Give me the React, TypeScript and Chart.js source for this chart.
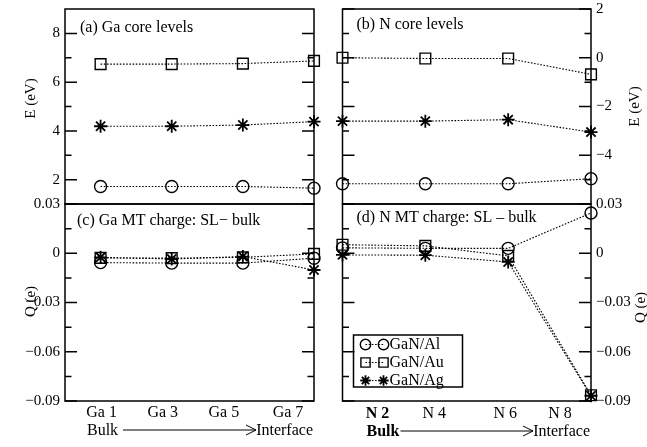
import React, { useEffect, useRef } from 'react';
import { Chart, registerables } from 'chart.js';

Chart.register(...registerables);

const FONT = "'Liberation Serif', 'Times New Roman', 'DejaVu Serif', serif";

// ---- categories ----
const GA_SITES = [1, 3, 5, 7];
const GA_SITE_LABELS = ['Ga 1', 'Ga 3', 'Ga 5', 'Ga 7'];
const N_SITES = [2, 4, 6, 8];
const N_SITE_LABELS = ['N 2', 'N 4', 'N 6', 'N 8'];
const SERIES_NAMES = ['GaN/Al', 'GaN/Au', 'GaN/Ag'];

// ---- (a) Ga core levels, E (eV) ----
const GA_CORE_AL = [1.72, 1.72, 1.72, 1.65];
const GA_CORE_AU = [6.74, 6.74, 6.76, 6.87];
const GA_CORE_AG = [4.19, 4.19, 4.24, 4.38];

// ---- (b) N core levels, E (eV) ----
const N_CORE_AL = [-5.17, -5.17, -5.17, -4.96];
const N_CORE_AU = [0.0, -0.03, -0.03, -0.68];
const N_CORE_AG = [-2.6, -2.6, -2.54, -3.05];

// ---- (c) Ga MT charge: SL - bulk, Q (e) ----
const GA_Q_AL = [-0.0057, -0.006, -0.006, -0.003];
const GA_Q_AU = [-0.0028, -0.003, -0.0025, -0.0004];
const GA_Q_AG = [-0.0025, -0.0035, -0.002, -0.0102];

// ---- (d) N MT charge: SL - bulk, Q (e) ----
const N_Q_AL = [0.0033, 0.003, 0.003, 0.0245];
const N_Q_AU = [0.0052, 0.0045, -0.0016, -0.0865];
const N_Q_AG = [-0.001, -0.0012, -0.0053, -0.0868];

// ---- tick values ----
const E_GA_TICKS = [2, 4, 6, 8];
const E_GA_MINOR = [3, 5, 7];
const E_N_TICKS = [2, 0, -2, -4];
const E_N_MINOR = [1, -1, -3, -5];
const Q_TICKS = [0.03, 0, -0.03, -0.06, -0.09];
const Q_MINOR = [0.015, -0.015, -0.045, -0.075];

const W = 647;
const H = 447;

const fmtE = (v: number) => (v === 0 ? '0' : (v < 0 ? '\u2212' : '') + String(Math.abs(v)));
const fmtQ = (v: number) => (Math.abs(v) < 1e-9 ? '0' : (v < 0 ? '\u2212' : '') + Math.abs(v).toFixed(2));

const STYLES = [
  { pointStyle: 'circle', radius: 6, lw: 1.4 },
  { pointStyle: 'rect', radius: 7.6, lw: 1.4 },
  { pointStyle: 'star', radius: 6.5, lw: 1.8 },
];

function makeDatasets(sites: number[], series: number[][]) {
  return series.map((vals, i) => ({
    label: SERIES_NAMES[i],
    data: sites.map((s, k) => ({ x: s, y: vals[k] })),
    showLine: true,
    borderColor: '#000',
    borderWidth: 1.1,
    borderDash: [1.6, 1.6],
    backgroundColor: 'rgba(0,0,0,0)',
    pointStyle: STYLES[i].pointStyle,
    pointRadius: STYLES[i].radius,
    pointBorderWidth: STYLES[i].lw,
    pointBorderColor: '#000',
    pointBackgroundColor: 'rgba(0,0,0,0)',
    fill: false,
    tension: 0,
    clip: false,
  }));
}

function marker(ctx: CanvasRenderingContext2D, style: string, x: number, y: number, r: number) {
  ctx.beginPath();
  if (style === 'circle') {
    ctx.arc(x, y, r, 0, Math.PI * 2);
  } else if (style === 'rect') {
    const s = r * Math.SQRT1_2;
    ctx.rect(x - s, y - s, 2 * s, 2 * s);
  } else {
    for (let k = 0; k < 4; k++) {
      const ang = (k * Math.PI) / 4;
      ctx.moveTo(x + Math.cos(ang) * r, y + Math.sin(ang) * r);
      ctx.lineTo(x - Math.cos(ang) * r, y - Math.sin(ang) * r);
    }
  }
  ctx.stroke();
}

const panelPlugin = {
  id: 'panel',
  beforeDatasetsDraw(chart: any, _args: any, o: any) {
    const { ctx, chartArea: a } = chart;
    const y = chart.scales.y;
    ctx.save();
    ctx.strokeStyle = '#000';
    ctx.lineWidth = 1.5;
    const tick = (v: number, len: number) => {
      const py = y.getPixelForValue(v);
      ctx.beginPath();
      ctx.moveTo(a.left, py);
      ctx.lineTo(a.left + len, py);
      ctx.moveTo(a.right, py);
      ctx.lineTo(a.right - len, py);
      ctx.stroke();
    };
    o.majors.forEach((v: number) => tick(v, 12));
    o.minors.forEach((v: number) => tick(v, 6.5));
    ctx.strokeRect(a.left, a.top, a.right - a.left, a.bottom - a.top);
    ctx.restore();
  },
  afterDraw(chart: any, _args: any, o: any) {
    const { ctx, chartArea: a } = chart;
    const x = chart.scales.x;
    ctx.save();
    ctx.fillStyle = '#000';
    ctx.strokeStyle = '#000';
    // panel title
    ctx.font = `16px ${FONT}`;
    ctx.textAlign = 'left';
    ctx.textBaseline = 'middle';
    ctx.fillText(o.title, a.left + o.titleDx, a.top + o.titleDy);
    // axis title (reads bottom to top)
    ctx.save();
    ctx.translate(o.yTitleX, (a.top + a.bottom) / 2 + o.yTitleDy);
    ctx.rotate(-Math.PI / 2);
    ctx.font = `15px ${FONT}`;
    ctx.textAlign = 'center';
    ctx.textBaseline = 'middle';
    ctx.fillText(o.yTitle, 0, 0);
    ctx.restore();
    // category labels + Bulk -> Interface
    if (o.xLabels) {
      ctx.textAlign = 'center';
      ctx.textBaseline = 'middle';
      o.sites.forEach((s: number, i: number) => {
        ctx.font = `${o.boldFirst && i === 0 ? 'bold ' : ''}16px ${FONT}`;
        ctx.fillText(o.xLabels[i], x.getPixelForValue(s) + o.labelNudge[i], a.bottom + o.labelDy);
      });
      const by = a.bottom + o.bulkDy;
      ctx.font = `${o.boldFirst ? 'bold ' : ''}16px ${FONT}`;
      ctx.textAlign = 'left';
      ctx.fillText('Bulk', a.left + o.bulkDx, by);
      ctx.font = `16px ${FONT}`;
      ctx.textAlign = 'right';
      ctx.fillText('Interface', a.right - 1, by);
      const ax0 = a.left + 58;
      const ax1 = a.right - 58;
      const ay = by - 1;
      ctx.lineWidth = 1;
      ctx.beginPath();
      ctx.moveTo(ax0, ay);
      ctx.lineTo(ax1, ay);
      ctx.moveTo(ax1 - 10, ay - 5);
      ctx.lineTo(ax1, ay);
      ctx.lineTo(ax1 - 10, ay + 5);
      ctx.stroke();
    }
    // legend
    if (o.legend) {
      const lx = a.left + 11;
      const ly = a.top + 131;
      ctx.lineWidth = 1.5;
      ctx.strokeRect(lx, ly, 109, 52);
      chart.data.datasets.forEach((ds: any, i: number) => {
        const ry = ly + 9.5 + i * 18;
        const m0 = lx + 12;
        const m1 = lx + 30;
        ctx.save();
        ctx.lineWidth = 1;
        ctx.setLineDash([1.6, 1.6]);
        ctx.beginPath();
        ctx.moveTo(m0, ry);
        ctx.lineTo(m1, ry);
        ctx.stroke();
        ctx.restore();
        const st = STYLES[i];
        ctx.lineWidth = st.lw;
        const r = st.pointStyle === 'rect' ? 6.5 : 5.2;
        marker(ctx, st.pointStyle, m0, ry, r);
        marker(ctx, st.pointStyle, m1, ry, r);
        ctx.font = `16px ${FONT}`;
        ctx.textAlign = 'left';
        ctx.textBaseline = 'middle';
        ctx.fillText(ds.label, lx + 36, ry + 0.5);
      });
    }
    ctx.restore();
  },
};

type PanelCfg = {
  sites: number[];
  xMin: number;
  xMax: number;
  series: number[][];
  yMin: number;
  yMax: number;
  ticks: number[];
  minors: number[];
  fmt: (v: number) => string;
  side: 'left' | 'right';
  padding: { left: number; right: number; top: number; bottom: number };
  axisWidth: number;
  plugin: any;
};

function buildConfig(p: PanelCfg): any {
  return {
    type: 'scatter',
    data: { datasets: makeDatasets(p.sites, p.series) },
    options: {
      responsive: false,
      animation: false,
      devicePixelRatio: 1,
      events: [],
      layout: { padding: p.padding },
      plugins: {
        legend: { display: false },
        tooltip: { enabled: false },
        panel: { majors: p.ticks, minors: p.minors, ...p.plugin },
      },
      scales: {
        x: { type: 'linear', min: p.xMin, max: p.xMax, display: false },
        y: {
          type: 'linear',
          position: p.side,
          min: p.yMin,
          max: p.yMax,
          afterFit: (s: any) => {
            s.width = p.axisWidth;
            s.paddingTop = 0;
            s.paddingBottom = 0;
          },
          afterBuildTicks: (s: any) => {
            s.ticks = p.ticks.map((v) => ({ value: v }));
          },
          ticks: {
            callback: (v: number) => p.fmt(v),
            padding: 5,
            autoSkip: false,
            color: '#000',
            font: { family: FONT, size: 15 },
          },
          grid: { display: false, drawTicks: false },
          border: { display: false },
        },
      },
    },
    plugins: [panelPlugin],
  };
}

const LEFT = 65;
const RIGHT_L = 314;
const LEFT_R = 342.5;
const RIGHT_R = 591;
const TOP = 5;
const MID = 204;
const BOTTOM = 401;

const PANELS: PanelCfg[] = [
  {
    sites: GA_SITES, xMin: 0, xMax: 7,
    series: [GA_CORE_AL, GA_CORE_AU, GA_CORE_AG],
    yMin: 1, yMax: 9, ticks: E_GA_TICKS, minors: E_GA_MINOR, fmt: fmtE,
    side: 'left', axisWidth: LEFT,
    padding: { left: 0, right: W - RIGHT_L, top: TOP, bottom: H - MID },
    plugin: { title: '(a) Ga core levels', titleDx: 15, titleDy: 19, yTitle: 'E (eV)', yTitleX: 31, yTitleDy: -8 },
  },
  {
    sites: N_SITES, xMin: 2, xMax: 8,
    series: [N_CORE_AL, N_CORE_AU, N_CORE_AG],
    yMin: -6, yMax: 2, ticks: E_N_TICKS, minors: E_N_MINOR, fmt: fmtE,
    side: 'right', axisWidth: W - RIGHT_R,
    padding: { left: LEFT_R, right: 0, top: TOP, bottom: H - MID },
    plugin: { title: '(b) N core levels', titleDx: 14, titleDy: 16, yTitle: 'E (eV)', yTitleX: 635, yTitleDy: 0 },
  },
  {
    sites: GA_SITES, xMin: 0, xMax: 7,
    series: [GA_Q_AL, GA_Q_AU, GA_Q_AG],
    yMin: -0.09, yMax: 0.03, ticks: Q_TICKS, minors: Q_MINOR, fmt: fmtQ,
    side: 'left', axisWidth: LEFT,
    padding: { left: 0, right: W - RIGHT_L, top: MID, bottom: H - BOTTOM },
    plugin: {
      title: '(c) Ga MT charge: SL\u2212 bulk', titleDx: 12, titleDy: 17, yTitle: 'Q (e)', yTitleX: 31, yTitleDy: -1,
      sites: GA_SITES, xLabels: GA_SITE_LABELS, labelNudge: [1, -9, -19, -26], labelDy: 12,
      bulkDx: 22, bulkDy: 30, boldFirst: false,
    },
  },
  {
    sites: N_SITES, xMin: 2, xMax: 8,
    series: [N_Q_AL, N_Q_AU, N_Q_AG],
    yMin: -0.09, yMax: 0.03, ticks: Q_TICKS, minors: Q_MINOR, fmt: fmtQ,
    side: 'right', axisWidth: W - RIGHT_R,
    padding: { left: LEFT_R, right: 0, top: MID, bottom: H - BOTTOM },
    plugin: {
      title: '(d) N MT charge: SL \u2013 bulk', titleDx: 14, titleDy: 14, yTitle: 'Q (e)', yTitleX: 641, yTitleDy: 5,
      sites: N_SITES, xLabels: N_SITE_LABELS, labelNudge: [35, 9, -3, -31], labelDy: 13,
      bulkDx: 24, bulkDy: 31, boldFirst: true, legend: true,
    },
  },
];

function Panel({ cfg }: { cfg: PanelCfg }) {
  const ref = useRef<HTMLCanvasElement | null>(null);
  useEffect(() => {
    if (!ref.current) return;
    const chart = new Chart(ref.current, buildConfig(cfg));
    return () => chart.destroy();
  }, [cfg]);
  return (
    <canvas
      ref={ref}
      width={W}
      height={H}
      style={{ position: 'absolute', left: 0, top: 0, width: W, height: H }}
    />
  );
}

export default function App() {
  return (
    <div style={{ position: 'fixed', left: 0, top: 0, width: W, height: H, background: '#fff', overflow: 'hidden' }}>
      {PANELS.map((p, i) => (
        <Panel key={i} cfg={p} />
      ))}
    </div>
  );
}
